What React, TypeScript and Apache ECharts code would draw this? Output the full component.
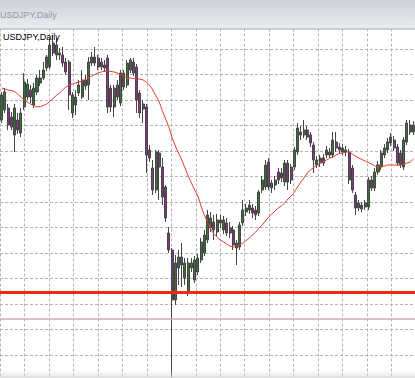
import React, { useEffect, useRef } from "react";
import * as echarts from "echarts";

const opens = [
  109.20, 109.60, 109.68, 109.32, 108.60, 109.20, 108.68, 109.72, 110.12, 110.40,
  109.80, 110.32, 110.68, 110.88, 111.28, 111.32, 112.28, 111.80, 111.88, 111.80,
  111.52, 111.52, 109.48, 109.80, 110.28, 110.12, 110.80, 110.60, 111.48, 111.72,
  111.68, 111.52, 111.40, 111.68, 110.48, 109.72, 110.60, 109.88, 111.08, 110.60,
  111.20, 111.52, 111.32, 110.28, 109.84, 109.72, 108.00, 107.28, 106.40, 107.88,
  107.32, 106.52, 104.68, 104.00, 102.00, 103.28, 103.72, 102.88, 102.32, 103.28,
  102.80, 103.12, 103.60, 103.88, 104.40, 104.88, 105.12, 104.72, 105.20, 104.80,
  105.08, 104.88, 104.80, 104.28, 104.12, 105.08, 105.52, 105.60, 105.68, 105.60,
  105.48, 106.40, 106.52, 107.52, 106.48, 106.60, 107.12, 107.08, 106.72, 107.48,
  107.32, 107.32, 107.92, 108.72, 108.60, 108.80, 108.60, 108.20, 107.40, 107.68,
  107.48, 108.00, 107.80, 107.80, 108.32, 108.12, 107.92, 108.00, 107.92, 107.28,
  106.20, 105.68, 105.80, 105.72, 105.72, 106.80, 106.48, 107.12, 107.32, 107.80,
  108.00, 108.28, 108.40, 108.12, 107.88, 107.32, 108.32, 109.00, 108.72,
];

const closes = [
  110.20, 110.32, 109.00, 108.92, 109.68, 108.80, 109.48, 110.72, 110.64, 110.12,
  110.48, 110.88, 110.88, 111.20, 111.72, 112.20, 111.88, 112.20, 111.80, 111.48,
  111.12, 110.20, 110.20, 110.12, 110.60, 110.80, 110.56, 111.52, 111.72, 111.48,
  111.32, 111.32, 111.28, 109.72, 109.72, 110.48, 110.12, 111.08, 110.52, 111.48,
  111.60, 111.08, 110.00, 109.48, 109.64, 107.80, 107.68, 106.40, 107.92, 107.32,
  106.12, 105.28, 104.00, 102.00, 103.48, 103.72, 103.40, 103.48, 103.48, 103.48,
  103.60, 103.68, 104.32, 104.60, 105.40, 105.28, 104.80, 105.20, 105.08, 105.20,
  104.68, 104.68, 104.20, 104.08, 105.00, 105.60, 105.68, 105.80, 105.48, 105.40,
  106.32, 106.80, 107.40, 106.52, 106.68, 106.80, 106.80, 106.88, 107.48, 106.72,
  106.80, 108.00, 108.88, 108.60, 108.80, 108.52, 108.28, 107.60, 107.60, 107.48,
  107.68, 107.80, 107.92, 108.40, 108.08, 108.00, 108.08, 107.92, 106.80, 106.40,
  105.68, 105.88, 105.64, 105.88, 106.80, 106.48, 107.12, 107.40, 107.88, 108.08,
  108.32, 108.52, 108.08, 107.48, 107.40, 108.40, 109.08, 108.72, 109.00,
];

const lows = [
  109.08, 109.48, 108.80, 108.80, 107.92, 108.64, 108.52, 109.60, 110.00, 109.88,
  109.68, 110.20, 110.56, 110.80, 111.16, 111.24, 111.76, 111.60, 111.60, 111.32,
  111.00, 109.60, 109.28, 109.40, 110.16, 110.04, 110.40, 110.00, 111.36, 111.36,
  111.20, 111.20, 111.12, 109.48, 109.52, 109.32, 110.00, 109.76, 110.40, 110.48,
  111.08, 110.96, 109.48, 109.28, 109.08, 107.08, 107.52, 106.20, 106.28, 106.00,
  105.80, 105.12, 103.88, 98.20, 101.80, 102.60, 102.52, 102.60, 102.16, 103.12,
  102.68, 103.00, 103.48, 103.76, 104.28, 104.72, 104.40, 104.56, 104.88, 104.64,
  104.56, 104.48, 104.00, 103.40, 104.00, 104.96, 105.36, 105.44, 105.28, 105.20,
  105.36, 106.28, 106.40, 106.40, 106.28, 106.40, 106.64, 106.72, 106.56, 106.40,
  106.64, 107.20, 107.80, 108.40, 108.48, 108.40, 108.12, 107.08, 107.28, 107.32,
  107.36, 107.68, 107.68, 107.68, 107.92, 107.84, 107.80, 107.76, 106.64, 106.28,
  105.40, 105.56, 105.52, 105.60, 105.60, 106.36, 106.36, 107.00, 107.20, 107.68,
  107.88, 108.16, 107.96, 107.36, 107.28, 107.20, 108.20, 108.60, 108.60,
];

const highs = [
  110.32, 110.48, 109.84, 109.52, 109.84, 109.48, 109.68, 111.08, 110.84, 110.60,
  110.68, 111.00, 111.20, 111.52, 111.80, 112.48, 112.60, 112.48, 112.08, 112.12,
  111.68, 111.60, 110.32, 110.40, 110.80, 111.20, 111.00, 111.72, 111.92, 112.12,
  111.80, 111.68, 111.60, 111.80, 110.60, 110.60, 110.80, 111.20, 111.20, 111.60,
  111.68, 111.68, 111.44, 110.40, 110.00, 109.84, 108.20, 107.60, 108.00, 108.00,
  107.68, 106.60, 104.92, 104.08, 103.80, 104.00, 104.28, 103.68, 103.68, 103.68,
  103.76, 103.84, 104.48, 104.80, 105.60, 105.52, 105.40, 105.44, 105.40, 105.36,
  105.28, 105.12, 104.96, 104.40, 105.12, 106.00, 105.84, 106.00, 105.84, 105.76,
  106.40, 106.96, 107.60, 107.68, 106.80, 106.96, 107.28, 107.28, 107.60, 107.60,
  107.44, 108.12, 109.08, 108.96, 109.20, 108.96, 108.72, 108.32, 107.76, 107.80,
  107.84, 108.16, 108.08, 108.72, 108.72, 108.28, 108.24, 108.16, 108.04, 107.40,
  106.32, 106.00, 105.92, 106.00, 106.92, 106.96, 107.28, 107.56, 108.00, 108.24,
  108.48, 108.68, 108.56, 108.24, 108.00, 108.52, 109.20, 109.20, 109.16,
];

const maValues = [
  110.48, 110.44, 110.40, 110.38, 110.34, 110.24, 110.12, 110.00, 109.92, 109.84,
  109.78, 109.72, 109.74, 109.78, 109.84, 109.94, 110.06, 110.18, 110.28, 110.40,
  110.52, 110.60, 110.64, 110.68, 110.72, 110.76, 110.82, 110.88, 110.96, 111.02,
  111.08, 111.12, 111.16, 111.16, 111.14, 111.12, 111.08, 111.02, 110.96, 110.88,
  110.88, 110.86, 110.84, 110.84, 110.80, 110.72, 110.60, 110.40, 110.16, 109.92,
  109.56, 109.24, 108.92, 108.48, 108.16, 107.88, 107.60, 107.28, 106.96, 106.68,
  106.40, 106.16, 105.76, 105.40, 105.12, 104.84, 104.64, 104.52, 104.40, 104.32,
  104.24, 104.16, 104.12, 104.14, 104.20, 104.28, 104.38, 104.48, 104.60, 104.72,
  104.88, 105.00, 105.16, 105.32, 105.44, 105.56, 105.68, 105.76, 105.88, 106.04,
  106.16, 106.32, 106.52, 106.72, 106.88, 107.08, 107.20, 107.30, 107.40, 107.48,
  107.54, 107.60, 107.68, 107.72, 107.80, 107.86, 107.88, 107.92, 107.92, 107.84,
  107.76, 107.68, 107.62, 107.56, 107.50, 107.44, 107.36, 107.32, 107.34, 107.36,
  107.40, 107.40, 107.40, 107.40, 107.40, 107.44, 107.48, 107.52, 107.64,
];

const levelLines = [102.29, 101.23];
const symbolTitle = "USDJPY,Daily";

export default function App() {
  const ref = useRef<HTMLDivElement>(null);

  useEffect(() => {
    if (!ref.current) return;
    const chart = echarts.init(ref.current, undefined, { renderer: "svg" });
    const categories = opens.map((_, i) => String(i + 1));
    const candles = opens.map((o, i) => [o, closes[i], lows[i], highs[i]]);
    const dashed = {
      show: true,
      lineStyle: { color: "#b4b4b4", type: [3, 2], width: 1 },
    };
    const hiddenParts = {
      axisLine: { show: false },
      axisTick: { show: false },
      axisLabel: { show: false },
    };

    chart.setOption({
      animation: false,
      backgroundColor: "#ffffff",
      grid: [
        { left: 0, right: 0, top: 30, bottom: 0 },
        { left: -17.5, right: 0, top: 23.5, bottom: 0 },
      ],
      xAxis: [
        {
          type: "category",
          gridIndex: 0,
          data: categories,
          boundaryGap: true,
          ...hiddenParts,
          splitLine: { show: false },
        },
        {
          type: "value",
          gridIndex: 1,
          min: 0,
          max: 16.96,
          interval: 1,
          ...hiddenParts,
          splitLine: dashed,
        },
      ],
      yAxis: [
        {
          type: "value",
          gridIndex: 0,
          min: 98.88,
          max: 112.8,
          ...hiddenParts,
          splitLine: { show: false },
        },
        {
          type: "value",
          gridIndex: 1,
          inverse: true,
          min: 0,
          max: 13.902,
          interval: 1,
          ...hiddenParts,
          splitLine: dashed,
        },
      ],
      series: [
        {
          type: "candlestick",
          xAxisIndex: 0,
          yAxisIndex: 0,
          data: candles,
          barWidth: "78%",
          itemStyle: {
            color: "#357535",
            color0: "#8a338a",
            borderColor: "#454545",
            borderColor0: "#454545",
            borderWidth: 1,
          },
          markLine: {
            silent: true,
            symbol: ["none", "none"],
            label: { show: false },
            data: [
              { yAxis: levelLines[0], lineStyle: { color: "#ee2a12", width: 3, type: "solid" } },
              { yAxis: levelLines[1], lineStyle: { color: "#d6a7b0", width: 1.5, type: "solid" } },
            ],
          },
        },
        {
          type: "line",
          xAxisIndex: 0,
          yAxisIndex: 0,
          data: maValues,
          showSymbol: false,
          symbol: "none",
          z: 5,
          lineStyle: { color: "#e2412d", width: 1 },
        },
      ],
      graphic: [
        {
          type: "rect",
          left: 0,
          top: 0,
          z: 100,
          shape: { width: 415, height: 29 },
          style: {
            fill: new echarts.graphic.LinearGradient(0, 0, 0, 1, [
              { offset: 0, color: "#cdd2d8" },
              { offset: 1, color: "#e9ecef" },
            ]),
          },
        },
        {
          type: "line",
          z: 101,
          shape: { x1: 0, y1: 29, x2: 415, y2: 29 },
          style: { stroke: "#a3a8ae", lineWidth: 1 },
        },
        {
          type: "text",
          left: 0,
          top: 10,
          z: 102,
          style: {
            text: symbolTitle,
            fill: "#8f99a5",
            font: "9px 'Liberation Sans', Arial, sans-serif",
          },
        },
        {
          type: "text",
          left: 3,
          top: 32,
          z: 102,
          style: {
            text: symbolTitle,
            fill: "#000000",
            font: "9px 'Liberation Sans', Arial, sans-serif",
          },
        },
        {
          type: "rect",
          left: 0,
          top: 370,
          z: 99,
          shape: { width: 415, height: 8 },
          style: {
            fill: new echarts.graphic.LinearGradient(0, 0, 0, 1, [
              { offset: 0, color: "rgba(230,230,230,0)" },
              { offset: 1, color: "rgba(215,215,215,0.8)" },
            ]),
          },
        },
      ],
    });

    return () => chart.dispose();
  }, []);

  return (
    <div
      ref={ref}
      style={{ position: "fixed", left: 0, top: 0, width: 415, height: 378 }}
    />
  );
}
